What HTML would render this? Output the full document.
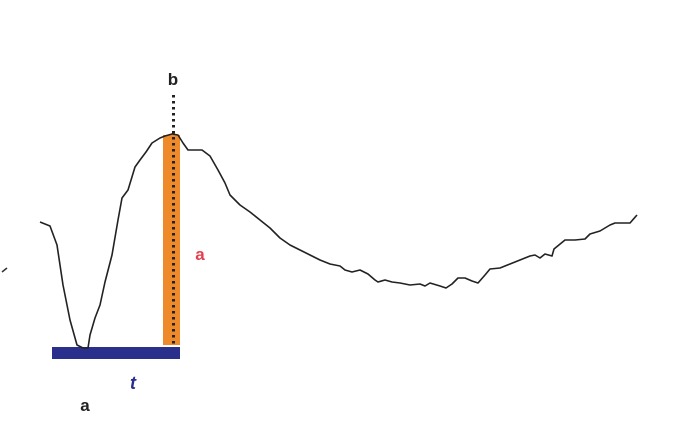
<!DOCTYPE html>
<html><head><meta charset="utf-8"><style>
body{margin:0;background:#fff}
svg{display:block}
text{font-family:"Liberation Sans",sans-serif;font-weight:bold}
</style></head><body>
<svg width="700" height="446" viewBox="0 0 700 446">
<path d="M2,272 L7,268" stroke="#333" stroke-width="1.5" fill="none"/>
<rect x="163" y="135" width="17" height="210" fill="#ef8a2a"/>
<line x1="173.5" y1="95" x2="173.5" y2="345" stroke="#222" stroke-width="3" stroke-dasharray="2.5,3.5"/>
<rect x="52" y="347" width="128" height="12" fill="#2b2f8c"/>
<path id="trace" fill="none" stroke="#222" stroke-width="1.6" stroke-linejoin="round"/>
<text x="173" y="85" font-size="17" fill="#222" text-anchor="middle">b</text>
<text x="200" y="260" font-size="17" fill="#e2404f" text-anchor="middle">a</text>
<text x="133" y="389" font-size="18" fill="#2b2f8c" font-style="italic" text-anchor="middle">t</text>
<text x="85" y="411" font-size="17" fill="#222" text-anchor="middle">a</text>
</svg>
<script>
const xs=[40,50,57,63,70,77,83,88,90,95,100,105,112,118,122,128,135,140,146,152,160,165,172,178,183,188,195,202,210,218,225,230,240,250,260,270,280,290,300,310,320,330,340,345,352,360,368,375,378,385,392,400,410,420,425,430,440,446,452,458,465,472,478,485,490,500,510,520,530,535,540,545,552,554,565,575,585,590,600,610,615,630,637];
const ys=[222,226,245,285,320,345,348,348,335,318,305,282,255,220,198,190,167,160,152,143,138,136,134,135,143,150,150,150,156,170,183,195,205,212,220,228,238,245,250,255,260,264,266,270,272,270,274,280,282,280,282,283,285,284,286,283,286,288,284,278,278,281,283,275,269,268,264,260,256,255,258,254,256,249,240,240,239,234,231,225,223,223,215];
document.getElementById('trace').setAttribute('d',xs.map((x,i)=>(i?'L':'M')+x+','+ys[i]).join(' '));
</script>
</body></html>
